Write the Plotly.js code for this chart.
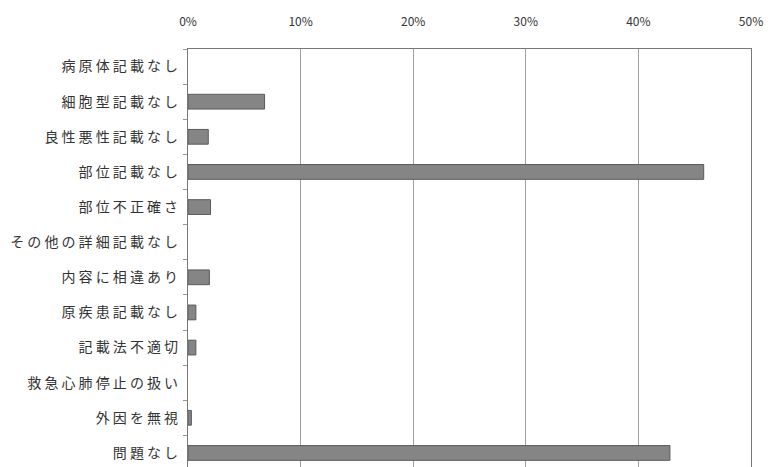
<!DOCTYPE html>
<html>
<head>
<meta charset="utf-8">
<script src="https://cdn.plot.ly/plotly-3.0.1.min.js"></script>
<style>
html,body{margin:0;padding:0;background:#fff;}
.ytick text{letter-spacing:3.1px;}
</style>
</head>
<body>
<div id="chart" style="width:768px;height:467px;"></div>
<script>
const categories = ["病原体記載なし","細胞型記載なし","良性悪性記載なし","部位記載なし","部位不正確さ","その他の詳細記載なし","内容に相違あり","原疾患記載なし","記載法不適切","救急心肺停止の扱い","外因を無視","問題なし"];
const values = [0, 6.8, 1.8, 45.8, 2.0, 0, 1.9, 0.7, 0.7, 0, 0.3, 42.8];
const xTickVals = [0, 10, 20, 30, 40, 50];
const xTickText = ["0%","10%","20%","30%","40%","50%"];

const trace = {
  type: "bar",
  orientation: "h",
  x: values,
  y: categories,
  width: 0.42,
  marker: {color: "#858585", line: {color: "#5a5a5a", width: values.map(v => v > 0 ? 1 : 0)}},
  hoverinfo: "x+y"
};

const layout = {
  width: 768, height: 467,
  margin: {l: 188, r: 17, t: 49, b: 0},
  paper_bgcolor: "#fff", plot_bgcolor: "#fff",
  font: {family: "'Noto Sans CJK JP', sans-serif", color: "#333", size: 12},
  showlegend: false,
  xaxis: {
    side: "top", range: [0, 50],
    tickvals: xTickVals, ticktext: xTickText,
    showgrid: true, gridcolor: "#a0a0a0", gridwidth: 1,
    showline: true, linecolor: "#777", linewidth: 1, mirror: true,
    ticks: "", zeroline: false,
    tickfont: {size: 12, color: "#333"},
    ticklabelstandoff: 17
  },
  yaxis: {
    type: "category",
    categoryorder: "array", categoryarray: categories,
    range: [11.4, -0.5],
    showline: true, linecolor: "#777", linewidth: 1, mirror: true,
    ticks: "outside", ticklen: 4, tickcolor: "#999", tickson: "boundaries",
    showgrid: false,
    tickfont: {size: 14, color: "#333"},
    ticklabelstandoff: 3
  }
};

Plotly.newPlot("chart", [trace], layout, {displayModeBar: false, staticPlot: true});
</script>
</body>
</html>
